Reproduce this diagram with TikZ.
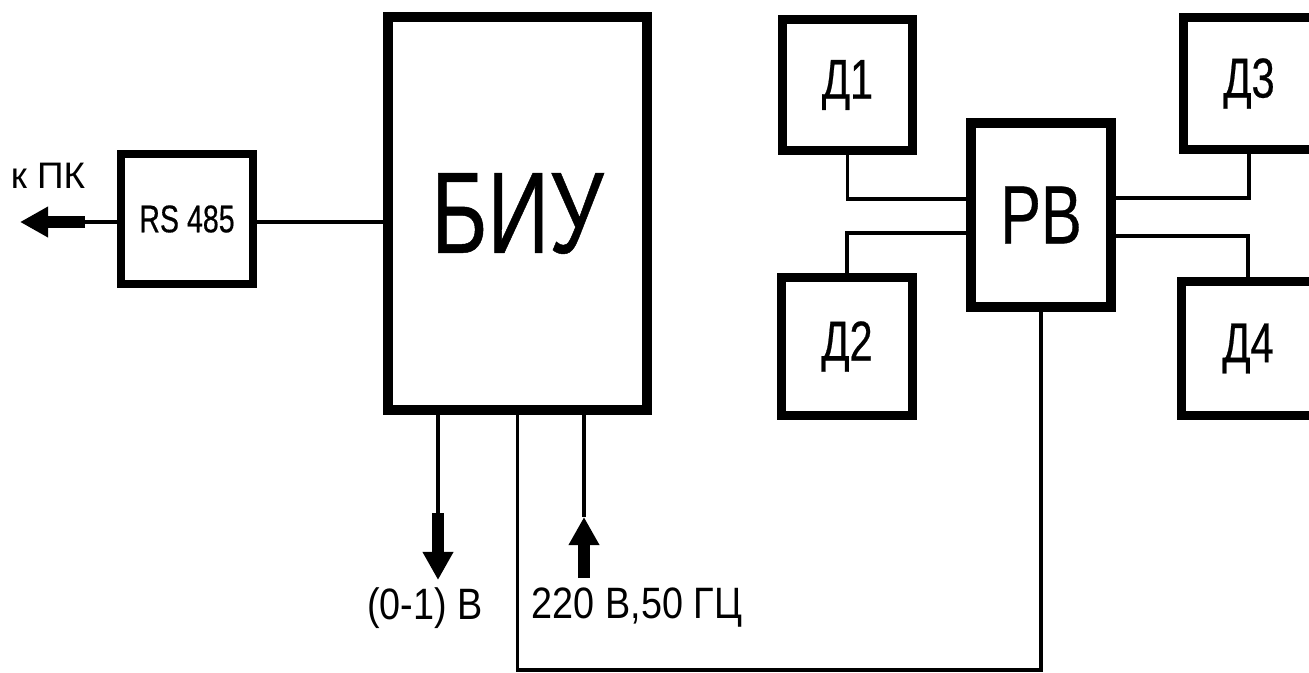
\documentclass[tikz,border=0pt]{standalone}
\usepackage{fontspec}
\setmainfont{Liberation Sans}
\newfontfamily\narrowfont{Liberation Sans}[FakeStretch=0.74,FakeBold=0.4]
\newfontfamily\labelfont{Liberation Sans}[FakeStretch=0.86]
\usetikzlibrary{arrows.meta}
\tikzset{
  blk/.style={draw, line width=5.2pt, inner sep=0pt, align=center},
  wire/.style={line width=2.2pt},
  fatarr/.style={-{Triangle[width=16.5pt,length=16pt]}, line width=6.3pt},
  lbl/.style={font=\labelfont\fontsize{25}{27}\selectfont, inner sep=0pt},
  dlbl/.style={font=\narrowfont\fontsize{32}{34}\selectfont},
}

\begin{document}
\begin{tikzpicture}[x=0.02cm, y=-0.02cm]
  \useasboundingbox (0,0) rectangle (1309,673);
  \clip (0,0) rectangle (1309,673);
  \fill[white] (0,0) rectangle (1309,673);

  \node[blk, line width=4.5pt, minimum width=2.64cm, minimum height=2.6cm,
        font=\narrowfont\fontsize{22}{24}\selectfont] (rs) at (187,219) {RS 485};
  \node[blk, line width=5.7pt, minimum width=5.18cm, minimum height=7.86cm,
        font=\narrowfont\fontsize{66}{70}\selectfont] (biu) at (517.5,213.5) {БИУ};
  \node[blk, line width=5.7pt, minimum width=2.8cm, minimum height=3.68cm,
        font=\narrowfont\fontsize{47}{50}\selectfont] (rv) at (1041,215) {РВ};
  \node[blk, dlbl, minimum width=2.6cm, minimum height=2.62cm] (d1) at (847.5,85) {Д1};
  \node[blk, dlbl, minimum width=2.62cm, minimum height=2.76cm] (d2) at (847,346.5) {Д2};
  \node[blk, dlbl, minimum width=2.62cm, minimum height=2.64cm] (d3) at (1249,83.5) {Д3};
  \node[blk, dlbl, minimum width=2.66cm, minimum height=2.68cm] (d4) at (1248,348.5) {Д4};

  \node[font=\fontsize{21}{23}\selectfont, inner sep=0pt] (pc) at (48,176) {к ПК};
  \node[lbl] (outlbl) at (425,608) {(0-1) В};
  \node[lbl] (pwrlbl) at (637,608) {220 В,50 ГЦ};

  \coordinate (pctip) at (20,222);
  \coordinate (outtip) at (438,580);
  \coordinate (intip) at (584,517);

  \draw[wire] (rs.east |- 0,222) -- (biu.west |- 0,222);
  \draw[wire] (rs.west |- 0,222) -- (85,222);
  \draw[fatarr] (85,222) -- (pctip);

  \draw[wire] (biu.south -| outtip) -- (438,513);
  \draw[fatarr] (438,513) -- (outtip);
  \draw[wire] (biu.south -| intip) -- (intip);
  \draw[fatarr] (584,578) -- (intip);

  \draw[wire] (d1.south) |- (rv.west |- 0,199);
  \draw[wire] (d2.north) |- (rv.west |- 0,233);
  \draw[wire] (d3.south) |- (rv.east |- 0,198);
  \draw[wire] (d4.north) |- (rv.east |- 0,236);
  \draw[wire] (rv.south) -- (rv.south |- 0,670) -| (biu.south);
\end{tikzpicture}
\end{document}
